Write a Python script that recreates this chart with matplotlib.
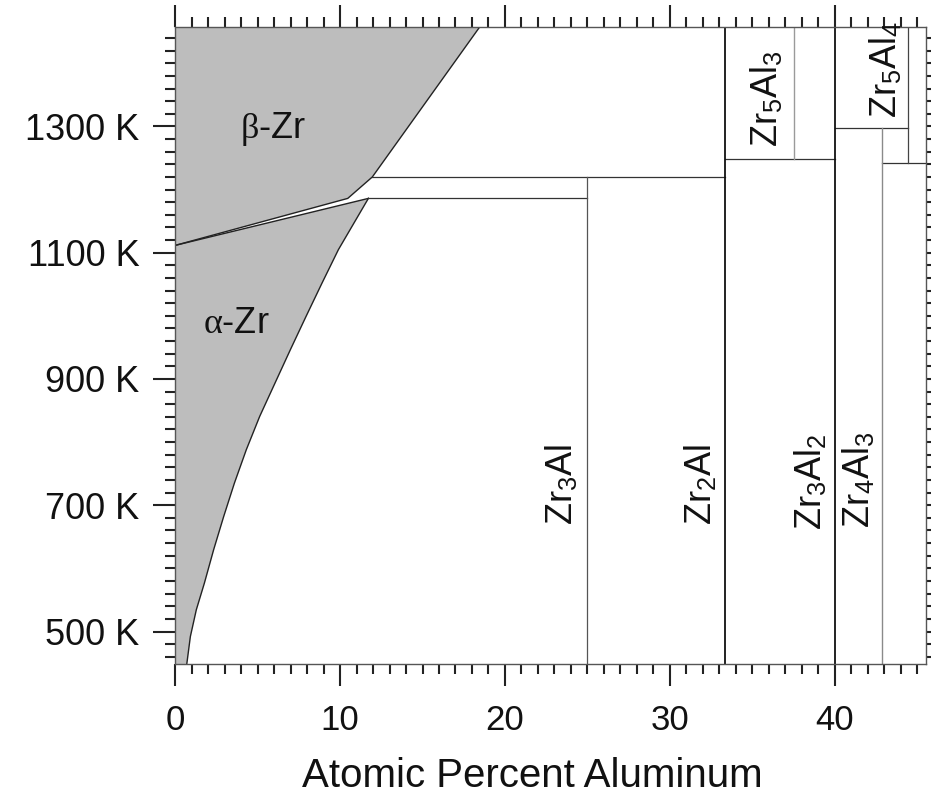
import numpy as np
import matplotlib.pyplot as plt
from matplotlib.ticker import MultipleLocator

plt.rcParams['font.family'] = ['Liberation Sans', 'DejaVu Sans']
plt.rcParams['mathtext.fontset'] = 'custom'
plt.rcParams['mathtext.rm'] = 'Liberation Sans'
plt.rcParams['mathtext.it'] = 'Liberation Serif'

# phase boundaries (at.% Al, K)
alpha_x = [0.71, 0.93, 1.29, 1.78, 2.34, 2.95, 3.60, 4.32, 5.13, 6.06, 6.99, 7.94, 8.91, 9.90, 11.72]
alpha_T = [448, 492.1, 534.4, 576.7, 629.5, 682.2, 735.1, 787.9, 840.6, 893.5, 946.3, 999.0,
           1051.9, 1104.7, 1186]
beta_x = [0.0, 10.47, 11.96, 18.48]
beta_T = [1111.5, 1186, 1220, 1458]
ab_x = [0.0, 11.72]          # alpha / alpha+beta upper edge
ab_T = [1111.5, 1186]

# horizontal reaction lines: (x start, x end, T)
h_lines = [(11.72, 25.0, 1186), (11.96, 33.33, 1220), (33.33, 40.0, 1248),
           (40.0, 44.44, 1297.5), (42.86, 45.5, 1242)]
# compound lines: (x, T low, T high, colour, width)
v_lines = [(25.0, 448, 1220, '#555555', 0.9), (33.33, 448, 1458, '#111111', 1.3),
           (37.5, 1248, 1458, '#9a9a9a', 1.0), (40.0, 448, 1458, '#111111', 1.3),
           (42.86, 448, 1297.5, '#8a8a8a', 1.0), (44.44, 1242, 1458, '#444444', 0.9)]

# compound labels: (text, x, T) anchor at start of baseline
labels = [(r'Zr$_3$Al', 24.12, 669), (r'Zr$_2$Al', 32.53, 669),
          (r'Zr$_3$Al$_2$', 39.19, 661), (r'Zr$_4$Al$_3$', 42.12, 663.6),
          (r'Zr$_5$Al$_3$', 36.57, 1268), (r'Zr$_5$Al$_4$', 43.74, 1313)]

fig = plt.figure(figsize=(9.31, 7.96), dpi=100)
ax = fig.add_axes([0.188, 0.1654, 0.8063, 0.8011])
ax.set_xlim(0, 45.5)
ax.set_ylim(448, 1458)

grey = '#bdbdbd'
ax.fill(beta_x + [0.0], beta_T + [1458], color=grey, lw=0)
ax.fill([0.0] + alpha_x + [0.0], [448] + alpha_T + [1111.5], color=grey, lw=0)
ax.plot(alpha_x, alpha_T, color='#222222', lw=1.0)
ax.plot(beta_x, beta_T, color='#222222', lw=1.0)
ax.plot(ab_x, ab_T, color='#222222', lw=1.0)

for x0, x1, t in h_lines:
    ax.plot([x0, x1], [t, t], color='#333333', lw=0.9)
for x, t0, t1, c, w in v_lines:
    ax.plot([x, x], [t0, t1], color=c, lw=w)

for txt, x, t in labels:
    ax.text(x, t, txt, rotation=90, rotation_mode='anchor', ha='left',
            va='baseline', fontsize=26, color='#111111')

ax.text(5.96, 1281.6, r'$\beta$-Zr', ha='center', va='baseline', fontsize=26, color='#111111')
ax.text(3.69, 972.7, r'$\alpha$-Zr', ha='center', va='baseline', fontsize=26, color='#111111')

ax.set_xticks([0, 10, 20, 30, 40])
ax.set_yticks([500, 700, 900, 1100, 1300])
ax.set_yticklabels(['500 K', '700 K', '900 K', '1100 K', '1300 K'])
ax.xaxis.set_minor_locator(MultipleLocator(1))
ax.yaxis.set_minor_locator(MultipleLocator(20))
ax.tick_params(which='both', direction='out', top=True, right=True, width=1.5,
               color='#222222', labelcolor='#111111')
ax.tick_params(which='major', length=16)
ax.tick_params(which='minor', length=7.5)
ax.tick_params(axis='x', pad=12.5, labelsize=25)
ax.tick_params(axis='y', pad=9.5, labelsize=26)
for s in ax.spines.values():
    s.set_color('#555555')
    s.set_linewidth(1.0)

ax.set_xlabel('Atomic Percent Aluminum', fontsize=29, color='#111111')
ax.xaxis.set_label_coords(0.476, -0.146)

fig.savefig('out.png', dpi=100)
